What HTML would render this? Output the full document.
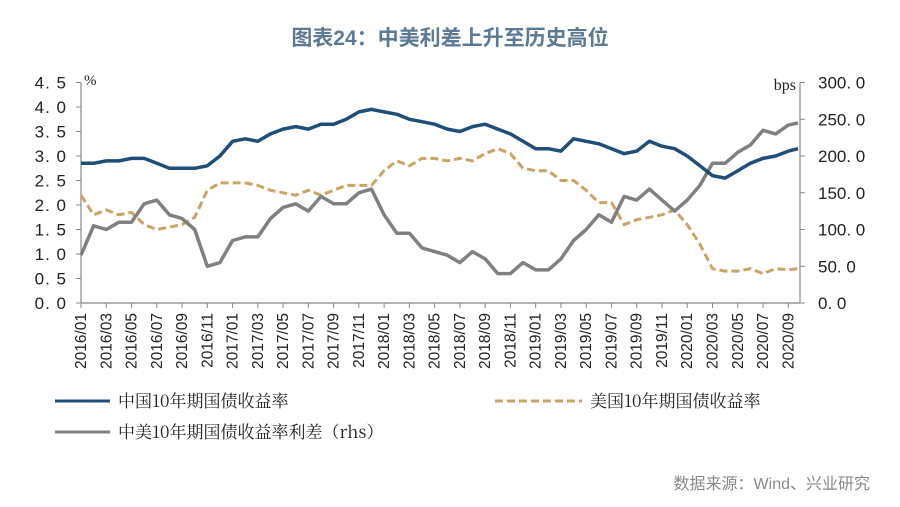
<!DOCTYPE html>
<html><head><meta charset="utf-8"><style>
body{margin:0;background:#fff;}
svg{display:block;font-family:"Liberation Sans","Noto Sans CJK SC",sans-serif;}
</style></head><body>
<svg id="c" width="900" height="507" viewBox="0 0 900 507">
<text x="450" y="45" text-anchor="middle" font-size="21" font-weight="bold" fill="#5d7a95">图表24：中美利差上升至历史高位</text>
<g id="axes"></g>
<g id="series"></g>
<g>
<line x1="55" y1="401" x2="110" y2="401" stroke="#1f4e79" stroke-width="3"/>
<text x="118" y="407" font-size="17" fill="#222" font-family="'Noto Serif CJK SC','Liberation Serif',serif">中国10年期国债收益率</text>
<line x1="495" y1="401" x2="582" y2="401" stroke="#c9a464" stroke-width="3" stroke-dasharray="8,4"/>
<text x="590" y="407" font-size="17" fill="#222" font-family="'Noto Serif CJK SC','Liberation Serif',serif">美国10年期国债收益率</text>
<line x1="55" y1="432" x2="110" y2="432" stroke="#808080" stroke-width="3"/>
<text x="118" y="438" font-size="17" fill="#222" font-family="'Noto Serif CJK SC','Liberation Serif',serif">中美10年期国债收益率利差（rhs）</text>
</g>
<text x="870" y="489" text-anchor="end" font-size="16" fill="#888">数据来源：Wind、兴业研究</text>
</svg>
<script>
const china=[2.85,2.85,2.9,2.9,2.95,2.95,2.85,2.75,2.75,2.75,2.8,3.0,
3.3,3.35,3.3,3.45,3.55,3.6,3.55,3.65,3.65,3.75,3.9,3.95,
3.9,3.85,3.75,3.7,3.65,3.55,3.5,3.6,3.65,3.55,3.45,3.3,
3.15,3.15,3.1,3.35,3.3,3.25,3.15,3.05,3.1,3.3,3.2,3.15,
3.0,2.8,2.6,2.55,2.7,2.85,2.95,3.0,3.1,3.15];
const us=[2.2,1.8,1.9,1.8,1.85,1.6,1.5,1.55,1.6,1.75,2.3,2.45,
2.45,2.45,2.4,2.3,2.25,2.2,2.3,2.2,2.3,2.4,2.4,2.4,
2.7,2.9,2.8,2.95,2.95,2.9,2.95,2.9,3.05,3.15,3.05,2.75,
2.7,2.7,2.5,2.5,2.3,2.05,2.05,1.6,1.7,1.75,1.8,1.9,
1.6,1.2,0.7,0.65,0.65,0.7,0.6,0.7,0.68,0.7];
const spread=[65,105,100,110,110,135,140,120,115,100,50,55,
85,90,90,115,130,135,125,145,135,135,150,155,
120,95,95,75,70,65,55,70,60,40,40,55,
45,45,60,85,100,120,110,145,140,155,140,125,
140,160,190,190,205,215,235,230,242,245];
const leftTicks=["0.0","0.5","1.0","1.5","2.0","2.5","3.0","3.5","4.0","4.5"];
const rightTicks=["0.0","50.0","100.0","150.0","200.0","250.0","300.0"];
const xLabels=[];
for(let y=2016;y<=2020;y++)for(let m=1;m<=11;m+=2){if(y==2020&&m>9)break;xLabels.push(y+"/"+(m<10?"0":"")+m);}
const NS="http://www.w3.org/2000/svg";
const X0=81,X1=800,Y0=303,Y1=82.5,step=12.63;
const xs=i=>X0+i*step;
const yl=v=>Y0-(v/4.5)*(Y0-Y1);
const yr=v=>Y0-(v/300)*(Y0-Y1);
function mk(t,a,p){const e=document.createElementNS(NS,t);for(const k in a)e.setAttribute(k,a[k]);p.appendChild(e);return e;}
const ax=document.getElementById('axes'),se=document.getElementById('series');
let l=mk('line',{x1:X0,y1:Y1,x2:X0,y2:Y0,stroke:'#888','stroke-width':1.2},ax);


l=mk('line',{x1:X1,y1:Y1,x2:X1,y2:Y0,stroke:'#888','stroke-width':1.2},ax);


l=mk('line',{x1:X0,y1:Y0,x2:X1,y2:Y0,stroke:'#888','stroke-width':1.2},ax);


leftTicks.forEach(t=>{const y=yl(parseFloat(t));mk('line',{x1:X0-5,y1:y,x2:X0,y2:y,stroke:'#888'},ax);
const e=mk('text',{x:67,y:y+6,'text-anchor':'end','font-size':17,fill:'#222','letter-spacing':'1'},ax);e.textContent=t.replace('.','. ');

});
rightTicks.forEach(t=>{const y=yr(parseFloat(t));mk('line',{x1:X1,y1:y,x2:X1+5,y2:y,stroke:'#888'},ax);
const e=mk('text',{x:818,y:y+6,'font-size':17,fill:'#222'},ax);e.textContent=t.replace('.','. ');

});
let u=mk('text',{x:84,y:85,'font-size':15,fill:'#222','font-family':'Liberation Serif,serif'},ax);u.textContent='%';


u=mk('text',{x:796,y:90,'text-anchor':'end','font-size':16,fill:'#222','font-family':'Liberation Serif,serif'},ax);u.textContent='bps';


xLabels.forEach((t,i)=>{const x=xs(i*2);mk('line',{x1:x,y1:Y0,x2:x,y2:Y0+5,stroke:'#888'},ax);
const e=mk('text',{x:0,y:0,'text-anchor':'end','font-size':15.5,fill:'#222',transform:`translate(${x+5},${313}) rotate(-90)`},ax);e.textContent=t;

});
function path(arr,yf,attrs,name){const d=arr.map((v,i)=>(i?'L':'M')+Math.min(xs(i),798).toFixed(1)+','+yf(v).toFixed(1)).join('');
const p=mk('path',Object.assign({d:d,fill:'none','stroke-linejoin':'round'},attrs),se);

}
path(us,yl,{stroke:'#c9a464','stroke-width':3,'stroke-dasharray':'8,4'},'us-10y-line');
path(spread,yr,{stroke:'#808080','stroke-width':3.5},'spread-line');
path(china,yl,{stroke:'#1f4e79','stroke-width':3.5},'china-10y-line');
</script>
</body></html>
